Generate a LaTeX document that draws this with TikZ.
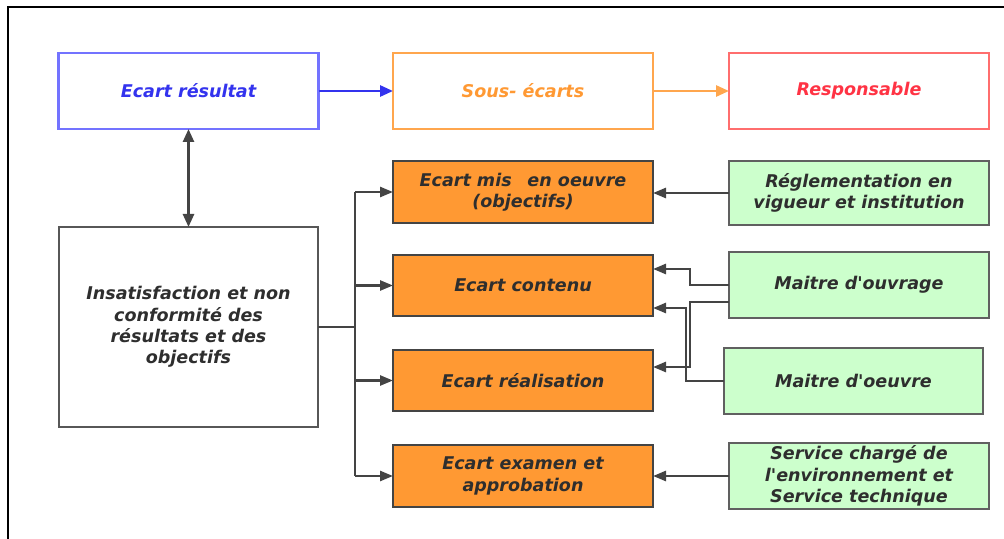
\documentclass[tikz,border=0pt]{standalone}
\usepackage{fontspec}
\setmainfont{DejaVu Sans}[
  BoldFont={DejaVu Sans Bold},
  ItalicFont={DejaVu Sans Oblique},
  BoldItalicFont={DejaVu Sans Bold Oblique}]
\usetikzlibrary{arrows.meta}

\definecolor{bluebd}{HTML}{7373FF}
\definecolor{bluetx}{HTML}{3333EE}
\definecolor{orgbd}{HTML}{FFA64D}
\definecolor{orgtx}{HTML}{FF9933}
\definecolor{redbd}{HTML}{FF6E6E}
\definecolor{redtx}{HTML}{FF3344}
\definecolor{ecfill}{HTML}{FF9933}
\definecolor{respfill}{HTML}{CCFFCC}
\definecolor{edge}{HTML}{444444}
\definecolor{txt}{HTML}{2E2E2E}

\newcommand{\apos}{\textquotesingle}

\begin{document}
\begin{tikzpicture}[x=1bp,y=-1bp,
  lbl/.style={font=\fontsize{17.6}{21.5}\selectfont\bfseries\itshape},
  box/.style={lbl, draw, line width=2.2bp, inner sep=2bp, outer sep=0pt,
    align=center, text=txt},
  head/.style={box, fill=white, minimum width=260bp, minimum height=76bp},
  ecart/.style={box, draw=edge, fill=ecfill, minimum width=260bp},
  resp/.style={box, draw=edge!85, fill=respfill, minimum width=260bp},
  link/.style={draw=edge, line width=2.6bp},
  tip/.style={-{Triangle[length=13bp,width=10bp]}},
]
\useasboundingbox (0,0) rectangle (1004,539);

% page frame
\draw[line width=2.4bp] (1004,7) -- (8,7) -- (8,539);

% header row
\node[head, draw=bluebd, text=bluetx] (er) at (188.5,91) {Ecart résultat};
\node[head, draw=orgbd, text=orgtx] (se) at (523,91) {Sous- écarts};
\node[head, draw=redbd, text=redtx] (rp) at (859,91) {Responsable\vphantom{g}};

% main finding
\node[box, draw=edge!90, fill=white, minimum width=259bp, minimum height=200bp]
  (big) at (188.5,327)
  {Insatisfaction et non\\conformité des\\résultats et des\\objectifs};

% sub-gaps
\node[ecart, minimum height=62bp] (o1) at (523,192) {Ecart mis\hspace{0.9em}en oeuvre\\(objectifs)};
\node[ecart, minimum height=61bp] (o2) at (523,285.5) {Ecart contenu};
\node[ecart, minimum height=61bp] (o3) at (523,380.5) {Ecart réalisation};
\node[ecart, minimum height=62bp] (o4) at (523,476) {Ecart examen et\\approbation};

% responsible parties
\node[resp, minimum height=64bp] (g1) at (859,193) {Réglementation en\\vigueur et institution};
\node[resp, minimum height=66bp] (g2) at (859,285) {Maitre d\apos ouvrage};
\node[resp, minimum width=259bp, minimum height=66bp] (g3) at (853.5,381) {Maitre d\apos oeuvre};
\node[resp, minimum height=66bp] (g4) at (859,476) {Service chargé de\\l\apos environnement et\\Service technique};

% header arrows
\draw[line width=2.8bp, draw=bluebd, -{Triangle[length=13bp,width=11bp,fill=bluetx]}, bluetx] (er.east) -- (se.west);
\draw[line width=2.8bp, draw=orgbd, -{Triangle[length=13bp,width=11bp,fill=orgbd]}, orgbd] (se.east) -- (rp.west);
\draw[link, {Triangle[length=13bp,width=11bp]}-{Triangle[length=13bp,width=11bp]}]
  (er.south) -- (big.north);

% distribution trunk
\coordinate (tr) at (355,327);
\draw[link] (big.east) -- (tr);
\draw[link] (tr |- o1.west) -- (tr |- o4.west);
\foreach \o in {o1,o2,o3,o4}
  \draw[link, tip] (tr |- \o.west) -- (\o.west);

% responsibility links
\draw[link, tip] (g1.west) -- (g1.west -| o1.east);
\draw[link, tip] (g2.west) -- ++(-39,0) |- ([yshift=16.5bp]o2.east);
\draw[link, tip] ([yshift=-17bp]g2.west) -- ++(-39,0) |- ([yshift=13.5bp]o3.east);
\draw[link, tip] (g3.west) -- ++(-38,0) |- ([yshift=-22.5bp]o2.east);
\draw[link, tip] (g4.west) -- (o4.east);
\end{tikzpicture}
\end{document}
